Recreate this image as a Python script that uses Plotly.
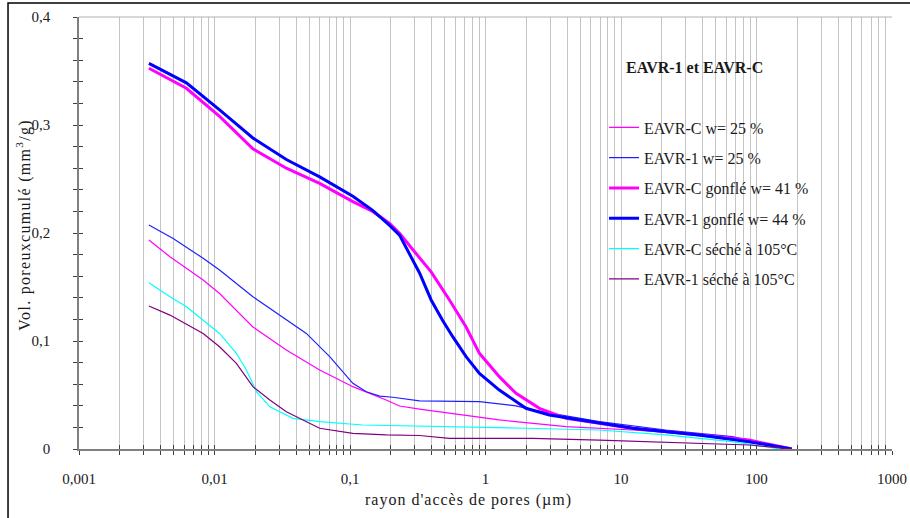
import plotly.graph_objects as go

# ---- data ----
x_c_gonfle = [0.00328, 0.0062, 0.0109, 0.0192, 0.0339, 0.0597, 0.105, 0.147, 0.196, 0.232, 0.307, 0.397, 0.542, 0.719, 0.902, 1.265, 1.68, 2.5, 3.93, 12.2, 37.7, 88, 182]
y_c_gonfle = [0.3525, 0.334, 0.308, 0.278, 0.260, 0.246, 0.229, 0.220, 0.209, 0.1997, 0.181, 0.164, 0.138, 0.113, 0.0886, 0.067, 0.0516, 0.0377, 0.0284, 0.0192, 0.013, 0.0083, 0.0]

x_1_gonfle = [0.00328, 0.0062, 0.0109, 0.0192, 0.0339, 0.0597, 0.105, 0.147, 0.196, 0.232, 0.326, 0.397, 0.483, 0.573, 0.719, 0.902, 1.265, 1.99, 2.96, 6.9, 12.2, 37.7, 88, 182]
y_1_gonfle = [0.357, 0.339, 0.314, 0.288, 0.268, 0.252, 0.234, 0.221, 0.207, 0.198, 0.163, 0.138, 0.119, 0.104, 0.0855, 0.070, 0.0546, 0.0377, 0.0315, 0.0238, 0.0192, 0.013, 0.0068, 0.0]

x_1_25 = [0.00328, 0.00495, 0.00824, 0.0109, 0.0192, 0.0303, 0.0476, 0.0708, 0.105, 0.132, 0.166, 0.207, 0.326, 0.902, 1.68, 2.23, 6.9, 21.4, 66, 182]
y_1_25 = [0.2074, 0.195, 0.1766, 0.1657, 0.141, 0.124, 0.107, 0.0855, 0.0608, 0.053, 0.049, 0.0479, 0.0445, 0.0438, 0.040, 0.0361, 0.0253, 0.0176, 0.0114, 0.0]

x_c_25 = [0.00328, 0.00469, 0.00824, 0.0109, 0.0192, 0.0339, 0.0597, 0.105, 0.185, 0.232, 0.326, 1.265, 3.93, 12.2, 37.7, 88, 182]
y_c_25 = [0.1935, 0.178, 0.1565, 0.144, 0.113, 0.0917, 0.0731, 0.0577, 0.0454, 0.0398, 0.0370, 0.0269, 0.0207, 0.0176, 0.013, 0.0068, 0.0]

x_c_seche = [0.00328, 0.00469, 0.0062, 0.00824, 0.0109, 0.0145, 0.0172, 0.0204, 0.0256, 0.038, 0.0597, 0.124, 0.326, 1.99, 6.9, 21.4, 66, 150]
y_c_seche = [0.154, 0.141, 0.1318, 0.1194, 0.107, 0.0886, 0.0731, 0.053, 0.039, 0.0284, 0.0253, 0.0222, 0.0213, 0.0192, 0.0176, 0.013, 0.0068, 0.0]

x_1_seche = [0.00328, 0.00469, 0.00824, 0.0109, 0.0145, 0.0192, 0.0256, 0.0339, 0.0597, 0.105, 0.185, 0.326, 0.542, 2.23, 6.9, 37.7, 88, 182]
y_1_seche = [0.1324, 0.124, 0.107, 0.0947, 0.0793, 0.0577, 0.0454, 0.0345, 0.0192, 0.0145, 0.013, 0.0125, 0.0099, 0.0099, 0.0083, 0.0052, 0.0037, 0.0]

x_tickvals = [0.001, 0.01, 0.1, 1, 10, 100, 1000]
x_ticktext = ["0,001", "0,01", "0,1", "1", "10", "100", "1000"]
x_minorvals = [m * 10.0 ** e for e in range(-3, 3) for m in range(2, 10)]

FONT = "Liberation Serif"
TXT = "#1a1a1a"
GRID = "#C4C4C4"
TICKC = "#404040"

series = [
    ("EAVR-C w= 25 %", x_c_25, y_c_25, "#FF00FF", 1.2),
    ("EAVR-1 w= 25 %", x_1_25, y_1_25, "#2020FF", 1.2),
    ("EAVR-C gonflé w= 41 %", x_c_gonfle, y_c_gonfle, "#FF00FF", 3),
    ("EAVR-1 gonflé w= 44 %", x_1_gonfle, y_1_gonfle, "#0000FF", 3),
    ("EAVR-C séché à 105°C", x_c_seche, y_c_seche, "#00FFFF", 1.2),
    ("EAVR-1 séché à 105°C", x_1_seche, y_1_seche, "#800080", 1.2),
]

fig = go.Figure()
for i, (name, xs, ys, col, w) in enumerate(series):
    fig.add_trace(go.Scatter(x=xs, y=ys, mode="lines", name=name,
                             legendgroup=f"g{i}",
                             line=dict(color=col, width=w)))

fig.update_layout(
    width=910, height=518,
    margin=dict(l=79, r=18, t=17, b=69, autoexpand=False),
    paper_bgcolor="white", plot_bgcolor="white",
    separators=", ",
    font=dict(family=FONT, size=15, color=TXT),
    showlegend=True,
    legend=dict(x=0.6458, y=0.7836, xanchor="left", yanchor="top",
                bgcolor="rgba(0,0,0,0)", borderwidth=0,
                traceorder="grouped", tracegroupgap=6.5,
                font=dict(family=FONT, size=16, color=TXT)),
    xaxis=dict(type="log", range=[-3, 3], automargin=False,
               tickmode="array", tickvals=x_tickvals, ticktext=x_ticktext,
               showgrid=True, gridcolor=GRID, gridwidth=1,
               showline=True, linecolor="#808080", linewidth=1.5,
               ticks="outside", ticklen=4, tickcolor=TICKC,
               ticklabelstandoff=11,
               minor=dict(tickmode="array", tickvals=x_minorvals,
                          showgrid=True, gridcolor=GRID, gridwidth=1,
                          ticks="outside", ticklen=4, tickcolor=TICKC),
               zeroline=False),
    yaxis=dict(range=[0, 0.4], dtick=0.1, tick0=0, automargin=False,
               showgrid=False, zeroline=False,
               showline=True, linecolor="#808080", linewidth=1.5,
               ticks="outside", ticklen=4, tickcolor=TICKC,
               ticklabelstandoff=20,
               minor=dict(dtick=0.02, ticks="outside", ticklen=4, tickcolor=TICKC)),
    xaxis2=dict(type="log", range=[-3, 3], overlaying="x", anchor="y", automargin=False,
                tickmode="array", tickvals=x_tickvals, showticklabels=False,
                showgrid=False, showline=False, zeroline=False,
                ticks="inside", ticklen=4, tickcolor=TICKC,
                minor=dict(tickmode="array", tickvals=x_minorvals, showgrid=False,
                           ticks="inside", ticklen=4, tickcolor=TICKC)),
    yaxis2=dict(range=[0, 0.4], dtick=0.1, tick0=0, overlaying="y", anchor="x", automargin=False,
                showticklabels=False, showgrid=False, showline=False, zeroline=False,
                ticks="inside", ticklen=4, tickcolor=TICKC,
                minor=dict(dtick=0.02, ticks="inside", ticklen=4, tickcolor=TICKC)),
)

# invisible helper trace so overlay axes are drawn
fig.add_trace(go.Scatter(x=[1], y=[0], xaxis="x2", yaxis="y2", mode="markers",
                         marker=dict(opacity=0), showlegend=False, hoverinfo="skip"))

shapes = [
    dict(type="rect", xref="paper", yref="paper", x0=0.5978, x1=0.9336, y0=0.3565, y1=0.7847,
         fillcolor="white", line=dict(width=0), layer="between"),
    dict(type="rect", xref="paper", yref="paper", x0=0.6064, x1=0.7085, y0=0.831, y1=0.9167,
         fillcolor="white", line=dict(width=0), layer="between"),
    dict(type="line", xref="paper", yref="paper", x0=0, x1=1, y0=1, y1=1,
         line=dict(color="#B0B0B0", width=1)),
    dict(type="rect", xref="paper", yref="paper", x0=-0.0873, x1=1.06, y0=-0.25, y1=1.0324,
         line=dict(color="black", width=1.5), fillcolor="rgba(0,0,0,0)"),
]
fig.update_layout(shapes=shapes)

fig.add_annotation(text="<b>EAVR-1 et EAVR-C</b>", xref="paper", yref="paper",
                   x=0.7565, y=0.882, xanchor="center", yanchor="middle", showarrow=False,
                   font=dict(family=FONT, size=16, color=TXT))
fig.add_annotation(text="<span style='letter-spacing:1px'>rayon d'accès de pores (µm)</span>",
                   xref="paper", yref="paper",
                   x=0.4785, y=-0.118, xanchor="center", yanchor="middle", showarrow=False,
                   font=dict(family=FONT, size=16, color=TXT))
fig.add_annotation(text="<span style='letter-spacing:1.3px'>Vol. poreuxcumulé (mm<sup>3</sup>/g)</span>",
                   xref="paper", yref="paper",
                   x=-0.0685, y=0.52, xanchor="center", yanchor="middle",
                   textangle=-90, showarrow=False,
                   font=dict(family=FONT, size=16, color=TXT))

fig.write_html("out.html", config={"displayModeBar": False},
               post_script="document.body.style.margin='0';")
